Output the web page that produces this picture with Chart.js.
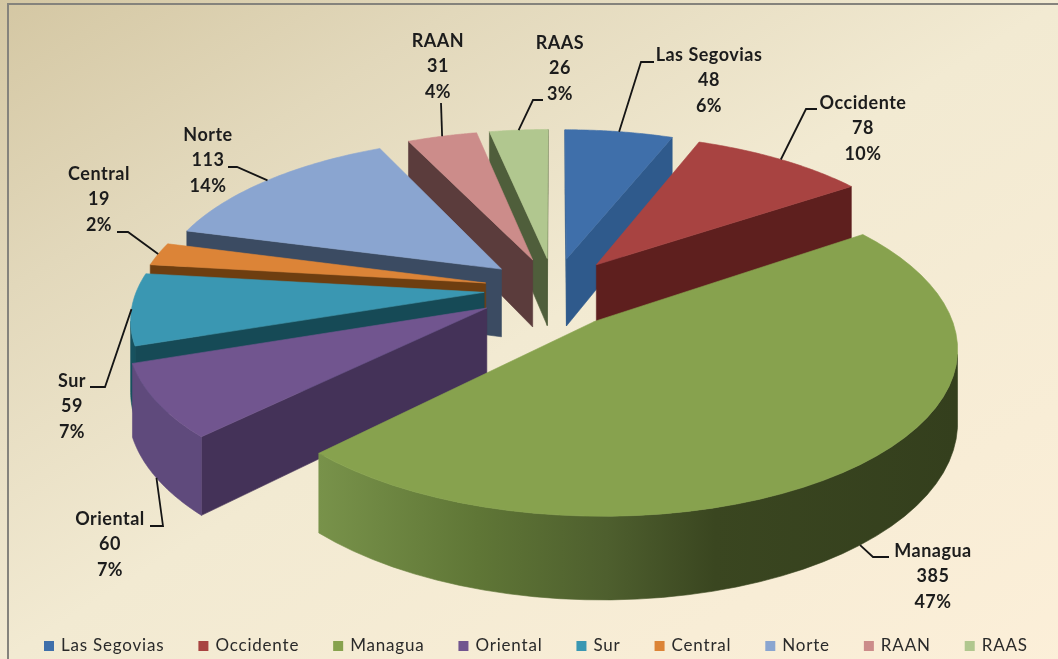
<!DOCTYPE html>
<html>
<head>
<meta charset="utf-8">
<title>Pie</title>
<script src="https://cdn.jsdelivr.net/npm/chart.js@4"></script>
<style>
    html, body { margin: 0; padding: 0; background: #f3ebd6; }
    canvas { display: block; }
</style>
</head>
<body>
<canvas id="pieChart" width="1058" height="659"></canvas>
<script>
// --- Data ---
const categories = ['Las Segovias', 'Occidente', 'Managua', 'Oriental', 'Sur', 'Central', 'Norte', 'RAAN', 'RAAS'];
const values = [48, 78, 385, 60, 59, 19, 113, 31, 26];

// --- Colours ---
const topColors = ['#3f6faa', '#a84341', '#87a24e', '#71558f', '#3a97b2', '#dc8437', '#8aa5d0', '#cc8c8a', '#b1c78f'];
const sideColors = ['#2f5a8c', '#5e1f1e', '#3f4f25', '#443258', '#164a56', '#6e3e10', '#3b4b62', '#5b3c3c', '#4f5e3b'];
const rimColors = ['#2f5a8c', '#5e1f1e', null, '#5f4a7c', '#17525f', '#6e3e10', '#3b4b62', '#5b3c3c', '#4f5e3b'];
const managuaRim = [[0, '#78924a'], [0.25, '#5f7636'], [0.45, '#4e5f2e'], [0.62, '#3a4620'], [1, '#343f1d']];

// --- 3D view settings ---
const view = { cx: 554, cy: 289, radius: 347, tilt: 0.45, camera: 2375, height: 69 };
const pull = [70, 70, 62, 78, 70, 70, 70, 70, 70];
const drop = [0, 0, 22, 0, 0, 0, 0, 0, 0];

// --- Label placement: text centre, first line y, elbow points of the leader ---
const labelX = [709, 863, 933, 110, 72, 99, 208, 438, 560];
const labelY = [55, 103, 551, 519, 381, 174, 135, 41, 43];
const leaders = [
    [[641, 62], [654, 62]],
    [[806, 109], [817, 109]],
    [[873, 557], [889, 557]],
    [[163, 526], [150, 526]],
    [[105, 387], [90, 387]],
    [[128, 232], [117, 232]],
    [[237, 167], [228, 167]],
    [[441, 103]],
    [[533, 100], [543, 100]]
];
const legendLeft = 44;
const legendY = 646;
const legendGap = 34;

function project(u, v, h) {
    const s = view.camera / (view.camera - v);
    return { x: view.cx + u * s, y: view.cy + (v * view.tilt + h) * s };
}

function fillPoly(ctx, pts, color) {
    ctx.beginPath();
    pts.forEach((p, i) => i ? ctx.lineTo(p.x, p.y) : ctx.moveTo(p.x, p.y));
    ctx.closePath();
    ctx.fillStyle = color;
    ctx.fill();
    ctx.strokeStyle = color;
    ctx.lineWidth = 0.6;
    ctx.stroke();
}

function wallVisible(nu, nv, u, v) {
    return nu * (0 - u) + nv * (view.camera - v) > 0;
}

function wall(ctx, a, b, color) {
    const q = [project(a.u, a.v, 0), project(b.u, b.v, 0), project(b.u, b.v, view.height), project(a.u, a.v, view.height)];
    fillPoly(ctx, q, color);
}

function sliceGeometry(arc, i) {
    const mid = (arc.startAngle + arc.endAngle) / 2;
    const du = pull[i] * Math.cos(mid);
    const dv = pull[i] * Math.sin(mid) + drop[i];
    const rim = [];
    const steps = 48;
    for (let k = 0; k <= steps; k++) {
        const a = arc.startAngle + (arc.endAngle - arc.startAngle) * k / steps;
        rim.push({ u: du + view.radius * Math.cos(a), v: dv + view.radius * Math.sin(a), a });
    }
    return { mid, du, dv, rim, apex: { u: du, v: dv } };
}

// Draws the pie slices as an exploded 3D pie, from the angles the controller computed
const pie3d = {
    id: 'pie3d',
    beforeDraw(chart) {
        const { ctx, width, height } = chart;
        const g = ctx.createLinearGradient(0, 0, 660, 1060);
        g.addColorStop(0, '#d4c7a3');
        g.addColorStop(0.2, '#e2d8bb');
        g.addColorStop(0.45, '#f2ead2');
        g.addColorStop(1, '#fef0da');
        ctx.fillStyle = g;
        ctx.fillRect(0, 0, width, height);
        ctx.fillStyle = '#85837c';
        ctx.fillRect(7, 3, width - 7, 2);
        ctx.fillRect(7, 3, 2, height - 3);
    },
    beforeDatasetsDraw(chart) {
        const { ctx } = chart;
        const arcs = chart.getDatasetMeta(0).data;
        const order = arcs.map((arc, i) => i)
            .sort((a, b) => Math.sin((arcs[a].startAngle + arcs[a].endAngle) / 2) - Math.sin((arcs[b].startAngle + arcs[b].endAngle) / 2));

        order.forEach(i => {
            const arc = arcs[i];
            const g = sliceGeometry(arc, i);
            const first = g.rim[0];
            const last = g.rim[g.rim.length - 1];

            if (wallVisible(Math.sin(arc.startAngle), -Math.cos(arc.startAngle), first.u, first.v)) {
                wall(ctx, g.apex, first, sideColors[i]);
            }
            if (wallVisible(-Math.sin(arc.endAngle), Math.cos(arc.endAngle), last.u, last.v)) {
                wall(ctx, g.apex, last, sideColors[i]);
            }

            // outer wall as one shape, only the part turned towards the camera
            const seen = g.rim.filter(p => wallVisible(Math.cos(p.a), Math.sin(p.a), p.u, p.v));
            if (seen.length > 1) {
                let rimFill = rimColors[i];
                if (!rimFill) {
                    const xs = seen.map(p => project(p.u, p.v, 0).x);
                    rimFill = ctx.createLinearGradient(Math.min(...xs), 0, Math.max(...xs), 0);
                    managuaRim.forEach(s => rimFill.addColorStop(s[0], s[1]));
                }
                const upper = seen.map(p => project(p.u, p.v, 0));
                const lower = seen.map(p => project(p.u, p.v, view.height)).reverse();
                fillPoly(ctx, upper.concat(lower), rimFill);
            }

            const top = [project(g.apex.u, g.apex.v, 0)].concat(g.rim.map(p => project(p.u, p.v, 0)));
            fillPoly(ctx, top, topColors[i]);
        });
        return false;
    },
    afterDraw(chart) {
        const { ctx } = chart;
        const arcs = chart.getDatasetMeta(0).data;
        const total = values.reduce((a, b) => a + b, 0);

        ctx.textBaseline = 'middle';
        arcs.forEach((arc, i) => {
            const g = sliceGeometry(arc, i);
            // front slices hang their leader from the bottom of the outer wall
            const anchorH = Math.sin(g.mid) > 0.4 ? view.height : 0;
            const anchor = project(g.du + view.radius * Math.cos(g.mid), g.dv + view.radius * Math.sin(g.mid), anchorH);
            ctx.beginPath();
            ctx.moveTo(anchor.x, anchor.y);
            leaders[i].forEach(p => ctx.lineTo(p[0], p[1]));
            ctx.strokeStyle = '#151515';
            ctx.lineWidth = 1.8;
            ctx.stroke();

            ctx.fillStyle = '#1c1c1c';
            ctx.font = "700 18px Lato";
            ctx.letterSpacing = '0.5px';
            ctx.textAlign = 'center';
            const lines = [categories[i], String(values[i]), Math.round(values[i] / total * 100) + '%'];
            lines.forEach((t, k) => ctx.fillText(t, labelX[i], labelY[i] + k * 25.5));
        });

        // legend row
        let x = legendLeft;
        ctx.font = "17px Lato";
        ctx.letterSpacing = '0.8px';
        ctx.textAlign = 'left';
        categories.forEach((name, i) => {
            ctx.fillStyle = topColors[i];
            ctx.fillRect(x, legendY - 5, 10, 10);
            ctx.fillStyle = '#2a2a2a';
            ctx.fillText(name, x + 17, legendY);
            x += 17 + ctx.measureText(name).width + legendGap;
        });
        ctx.letterSpacing = '0px';
    }
};

new Chart(document.getElementById('pieChart'), {
    type: 'pie',
    data: {
        labels: categories,
        datasets: [{
            data: values,
            backgroundColor: topColors,
            borderWidth: 0
        }]
    },
    options: {
        responsive: false,
        animation: false,
        plugins: {
            tooltip: { enabled: false },
            legend: { display: false }
        }
    },
    plugins: [pie3d]
});
</script>
</body>
</html>
